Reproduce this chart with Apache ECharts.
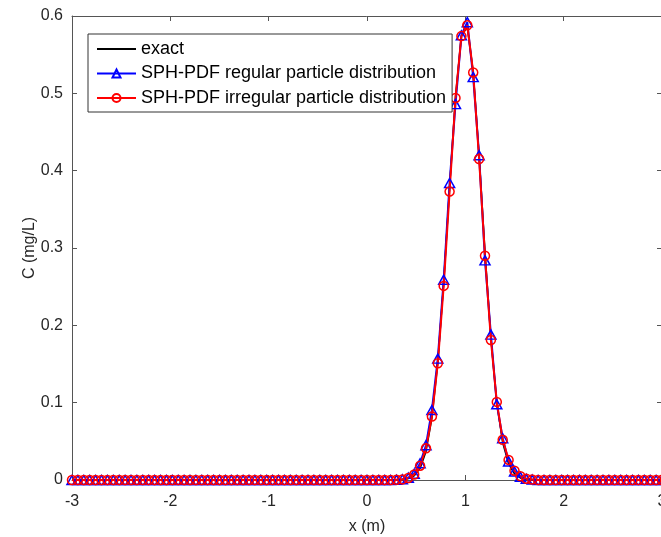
<!DOCTYPE html>
<html>
<head>
<meta charset="utf-8">
<script src="https://cdn.jsdelivr.net/npm/echarts@6/dist/echarts.min.js"></script>
<style>html,body{margin:0;padding:0;background:#fff;}#c{width:661px;height:537px;}</style>
</head>
<body>
<div id="c"></div>
<script>
const xValues = [-3,-2.94,-2.88,-2.82,-2.76,-2.7,-2.64,-2.58,-2.52,-2.46,-2.4,-2.34,-2.28,-2.22,-2.16,-2.1,-2.04,-1.98,-1.92,-1.86,-1.8,-1.74,-1.68,-1.62,-1.56,-1.5,-1.44,-1.38,-1.32,-1.26,-1.2,-1.14,-1.08,-1.02,-0.96,-0.9,-0.84,-0.78,-0.72,-0.66,-0.6,-0.54,-0.48,-0.42,-0.36,-0.3,-0.24,-0.18,-0.12,-0.06,0,0.06,0.12,0.18,0.24,0.3,0.36,0.42,0.48,0.54,0.6,0.66,0.72,0.78,0.84,0.9,0.96,1.02,1.08,1.14,1.2,1.26,1.32,1.38,1.44,1.5,1.56,1.62,1.68,1.74,1.8,1.86,1.92,1.98,2.04,2.1,2.16,2.22,2.28,2.34,2.4,2.46,2.52,2.58,2.64,2.7,2.76,2.82,2.88,2.94,3];
// values for x = -3 ... 0.24 are all zero (55 points); listed below from x = 0.30 to 3
const zerosLeft = [0,0,0,0,0,0,0,0,0,0,0,0,0,0,0,0,0,0,0,0,0,0,0,0,0,0,0,0,0,0,0,0,0,0,0,0,0,0,0,0,0,0,0,0,0,0,0,0,0,0,0,0,0,0,0];
const exactPeak = [0.0001,0.0005,0.0018,0.0055,0.015,0.037,0.080,0.152,0.256,0.379,0.496,0.574,0.586,0.528,0.420,0.295,0.183,0.100,0.048,0.021,0.008,0.0026,0.0008,0.0002,0,0,0,0,0,0,0,0,0,0,0,0,0,0,0,0,0,0,0,0,0,0];
const regularPeak = [0.0003,0.001,0.003,0.008,0.0216,0.045,0.0905,0.157,0.259,0.384,0.486,0.575,0.592,0.521,0.420,0.284,0.188,0.098,0.054,0.024,0.011,0.004,0.0015,0.0005,0,0,0,0,0,0,0,0,0,0,0,0,0,0,0,0,0,0,0,0,0,0];
const irregularPeak = [0.0002,0.0008,0.0025,0.007,0.0185,0.041,0.082,0.151,0.251,0.373,0.494,0.574,0.588,0.527,0.415,0.290,0.181,0.101,0.052,0.026,0.012,0.005,0.0017,0.0005,0,0,0,0,0,0,0,0,0,0,0,0,0,0,0,0,0,0,0,0,0,0];
const seriesNames = ['exact','SPH-PDF regular particle distribution','SPH-PDF irregular particle distribution'];
const xTicks = [-3,-2,-1,0,1,2,3];
const yTicks = [0,0.1,0.2,0.3,0.4,0.5,0.6];

function pairs(ys){ return xValues.map((x,i)=>[x, ys[i]]); }
const exact = zerosLeft.concat(exactPeak);
const regular = zerosLeft.concat(regularPeak);
const irregular = zerosLeft.concat(irregularPeak);

const font = 'Liberation Sans, Arial, Helvetica, sans-serif';
const axisCol = '#555';
const txtCol = '#262626';

const chart = echarts.init(document.getElementById('c'), null, {renderer:'canvas'});
chart.setOption({
  animation:false,
  backgroundColor:'#fff',
  textStyle:{fontFamily:font},
  grid:{left:72, top:16, width:590, height:464, containLabel:false, outerBoundsMode:'none'},
  legend:{
    orient:'vertical', left:88, top:34,
    padding:[6,6,5,8], itemGap:6.5, itemWidth:39, itemHeight:10,
    backgroundColor:'#fff', borderColor:'#333', borderWidth:1,
    textStyle:{fontSize:18, color:'#000', fontFamily:font},
    data:[{name:seriesNames[0], itemStyle:{opacity:0}}, seriesNames[1], seriesNames[2]]
  },
  xAxis:[{
    type:'value', min:xTicks[0], max:xTicks[xTicks.length-1], interval:1,
    name:'x (m)', nameLocation:'middle', nameGap:39,
    nameTextStyle:{fontSize:16, color:txtCol, fontFamily:font},
    axisLine:{show:true, onZero:false, lineStyle:{color:axisCol, width:1}},
    axisTick:{show:true, inside:true, length:5, lineStyle:{color:axisCol}},
    axisLabel:{fontSize:16, color:txtCol, margin:14, fontFamily:font},
    splitLine:{show:false}
  },{
    type:'value', position:'top', min:xTicks[0], max:xTicks[xTicks.length-1], interval:1,
    axisLine:{show:true, onZero:false, lineStyle:{color:axisCol, width:1}},
    axisTick:{show:true, inside:true, length:5, lineStyle:{color:axisCol}},
    axisLabel:{show:false}, splitLine:{show:false}
  }],
  yAxis:[{
    type:'value', min:yTicks[0], max:yTicks[yTicks.length-1], interval:0.1,
    name:'C (mg/L)', nameLocation:'middle', nameGap:34, nameRotate:90, nameMoveOverlap:false,
    nameTextStyle:{fontSize:16, color:txtCol, fontFamily:font},
    axisLine:{show:true, onZero:false, lineStyle:{color:axisCol, width:1}},
    axisTick:{show:true, inside:true, length:5, lineStyle:{color:axisCol}},
    axisLabel:{fontSize:16, color:txtCol, margin:9, fontFamily:font},
    splitLine:{show:false}
  },{
    type:'value', position:'right', min:0, max:0.6, interval:0.1,
    axisLine:{show:true, onZero:false, lineStyle:{color:axisCol, width:1}},
    axisTick:{show:true, inside:true, length:5, lineStyle:{color:axisCol}},
    axisLabel:{show:false}, splitLine:{show:false}
  }],
  series:[{
    name:seriesNames[0], type:'line', data:pairs(exact), showSymbol:false, symbol:'none',
    clip:false, lineStyle:{color:'#000', width:1.5}, itemStyle:{color:'#000'}, emphasis:{disabled:true}
  },{
    name:seriesNames[1], type:'line', data:pairs(regular), symbol:'triangle', symbolSize:[10,9],
    clip:false, lineStyle:{color:'#0000ff', width:2},
    itemStyle:{color:'none', borderColor:'#0000ff', borderWidth:1.5}, emphasis:{disabled:true}
  },{
    name:seriesNames[2], type:'line', data:pairs(irregular), symbol:'circle', symbolSize:9,
    clip:false, lineStyle:{color:'#ff0000', width:2},
    itemStyle:{color:'none', borderColor:'#ff0000', borderWidth:1.5}, emphasis:{disabled:true}
  }]
});
</script>
</body>
</html>
